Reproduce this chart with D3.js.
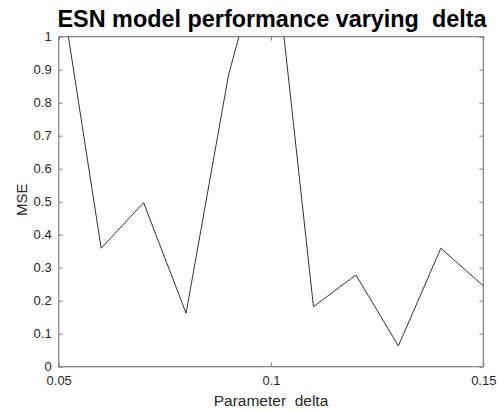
<!DOCTYPE html>
<html><head><meta charset="utf-8">
<script src="https://cdn.jsdelivr.net/npm/d3@7/dist/d3.min.js"></script>
<style>body{margin:0;background:#fff}svg{display:block}text{font-family:"Liberation Sans",Arial,sans-serif;white-space:pre}</style>
</head><body>
<script>
const deltas = [0.05,0.06,0.07,0.08,0.09,0.10,0.11,0.12,0.13,0.14,0.15];
const mse    = [1.19,0.359,0.497,0.162,0.884,1.36,0.182,0.278,0.063,0.359,0.245];
const xTicks = [0.05,0.1,0.15];
const yTicks = [0,0.1,0.2,0.3,0.4,0.5,0.6,0.7,0.8,0.9,1];
const title = "ESN model performance varying  delta";
const xLabel = "Parameter  delta";
const yLabel = "MSE";

const W=498,H=412;
const m={l:58.7,r:498-483.3,t:36.7,b:412-366.7};
const svg=d3.select("body").append("svg").attr("width",W).attr("height",H);
const x=d3.scaleLinear().domain([0.05,0.15]).range([m.l,W-m.r]);
const y=d3.scaleLinear().domain([0,1]).range([H-m.b,m.t]);
const axisColor="#808080", textColor="#262626";

svg.append("defs").append("clipPath").attr("id","clip").append("rect")
  .attr("x",m.l).attr("y",m.t).attr("width",x.range()[1]-m.l).attr("height",y.range()[0]-m.t);

const fmt=d=>d3.format("")(d);
function style(g){g.select(".domain").remove();g.selectAll(".tick line").attr("stroke",axisColor);g.selectAll("text").attr("fill",textColor).attr("font-size",13);}
svg.append("g").attr("transform",`translate(0,${y(0)})`).call(d3.axisBottom(x).tickValues(xTicks).tickFormat(fmt).tickSizeInner(-4).tickPadding(9)).call(style);
svg.append("g").attr("transform",`translate(0,${y(1)})`).call(d3.axisTop(x).tickValues(xTicks).tickFormat("").tickSizeInner(-4)).call(style);
svg.append("g").attr("transform",`translate(${m.l},0)`).call(d3.axisLeft(y).tickValues(yTicks).tickFormat(fmt).tickSizeInner(-4).tickPadding(7)).call(style);
svg.append("g").attr("transform",`translate(${x(0.15)},0)`).call(d3.axisRight(y).tickValues(yTicks).tickFormat("").tickSizeInner(-4)).call(style);
svg.append("rect").attr("x",m.l).attr("y",m.t).attr("width",x.range()[1]-m.l).attr("height",y.range()[0]-m.t)
  .attr("fill","none").attr("stroke",axisColor).attr("stroke-width",1.2);

svg.append("path").datum(deltas.map((d,i)=>[d,mse[i]])).attr("clip-path","url(#clip)")
  .attr("d",d3.line().x(d=>x(d[0])).y(d=>y(d[1]))).attr("fill","none").attr("stroke","#333").attr("stroke-width",1);

svg.append("text").attr("x",(m.l+x.range()[1])/2+1).attr("y",27).attr("text-anchor","middle")
  .attr("font-size",23.4).attr("font-weight","bold").attr("fill","#000").text(title);
svg.append("text").attr("x",(m.l+x.range()[1])/2).attr("y",406).attr("text-anchor","middle")
  .attr("font-size",15.5).attr("fill",textColor).text(xLabel);
svg.append("text").attr("transform",`translate(27,${(y(0)+y(1))/2-2}) rotate(-90)`).attr("text-anchor","middle")
  .attr("font-size",15).attr("fill",textColor).text(yLabel);
</script>
</body></html>
